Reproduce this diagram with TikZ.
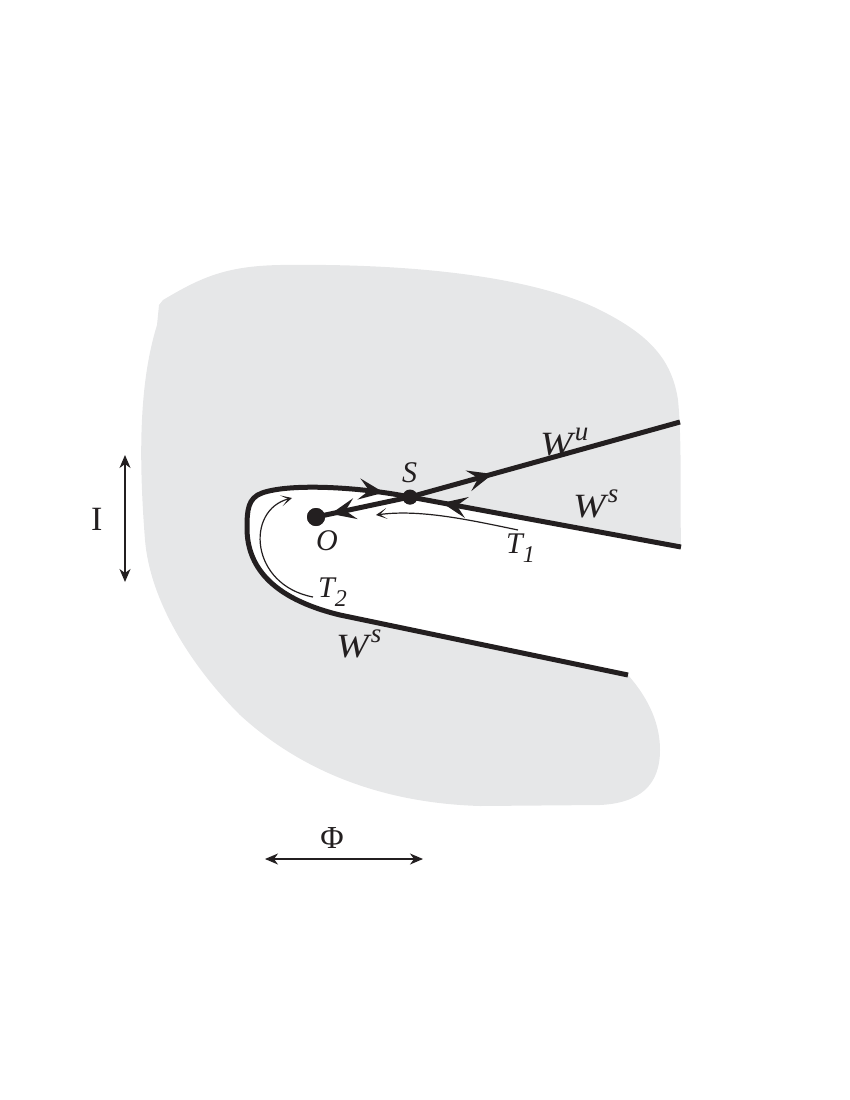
\documentclass[tikz,border=0pt]{standalone}
\usepackage{fontspec}
\setmainfont{Liberation Serif}
\usetikzlibrary{arrows.meta,decorations.markings}
\definecolor{blobgray}{HTML}{E6E7E8}
\definecolor{ink}{HTML}{231F20}
\newcommand\bigit{\fontsize{34}{38}\selectfont\itshape}
\newcommand\midit{\fontsize{30}{32}\selectfont\itshape}
\newcommand\wide[1]{\scalebox{1.15}[1]{#1}}
\newcommand\supr[1]{\kern2pt\raisebox{0.42em}{\fontsize{27}{28}\selectfont\itshape #1}}
\newcommand\subr[1]{\raisebox{-0.3em}{\fontsize{24}{26}\selectfont\itshape #1}}
\tikzset{
  wline/.style={draw=ink, line width=5pt},
  fwd/.style={postaction={decorate,decoration={markings,
      mark=at position #1 with {\arrow[ink]{Stealth[length=25pt,width=21pt,inset=10pt]}}}}},
  bwd/.style={postaction={decorate,decoration={markings,
      mark=at position #1 with {\arrowreversed[ink]{Stealth[length=25pt,width=21pt,inset=10pt]}}}}},
  thinarrow/.style={draw=ink, line width=1.2pt, -{Stealth[length=11pt,width=11pt,inset=7pt]}},
  axisarrow/.style={draw=ink, line width=1.2pt, {Stealth[length=13pt,width=11pt,inset=4pt]}-{Stealth[length=13pt,width=11pt,inset=4pt]}},
  dot/.style={circle, fill=ink, inner sep=0pt, minimum size=#1},
  lab/.style={inner sep=0pt, text=ink},
}
\begin{document}
\begin{tikzpicture}[x=1pt,y=-1pt]
\useasboundingbox (0,0) rectangle (850,1100);
% named points
\coordinate (A) at (681,547);
\coordinate (E) at (680,422);
\coordinate (L) at (628,675);
\node[dot=18pt] (O) at (316,517) {};
\node[dot=15pt] (S) at (410,497) {};
% gray region
\fill[blobgray] (163,300) .. controls (200,278) and (225,266) .. (280,265)
  .. controls (430,263) and (540,280) .. (600,310)
  .. controls (650,335) and (672,360) .. (678,400)
  .. controls (682,440) and (680,500) .. (A)
  -- (S.center) .. controls (360,487) and (290,483) .. (262,493)
  .. controls (248,498) and (247,510) .. (247,528)
  .. controls (247,565) and (270,598) .. (340,615) -- (L)
  .. controls (650,700) and (660,725) .. (660,750)
  .. controls (660,785) and (640,803) .. (600,805)
  -- (480,806) .. controls (380,803) and (300,770) .. (240,715)
  .. controls (190,665) and (150,600) .. (145,540)
  .. controls (138,450) and (140,380) .. (157,325)
  -- (159,305) -- cycle;
% stable manifold W^s
\path[wline, fwd=243pt, bwd=302pt] (A) -- (S.center)
  .. controls (360,487) and (290,483) .. (262,493)
  .. controls (248,498) and (247,510) .. (247,528)
  .. controls (247,565) and (270,598) .. (340,615) -- (L);
% unstable manifold W^u
\path[wline, bwd=15pt, fwd=182pt] (O.center) -- (S.center) -- (E);
\node[dot=18pt] at (O) {};
\node[dot=15pt] at (S) {};
% thin time arrows
\coordinate (t1s) at (518,530);
\coordinate (t1e) at (376,515);
\draw[thinarrow] (t1s) .. controls (470,520) and (420,509) .. (t1e);
\coordinate (t2s) at (313,597);
\coordinate (t2e) at (292,498);
\draw[thinarrow] (t2s) .. controls (250,585) and (245,510) .. (t2e);
% labels
\node[lab, anchor=base west] (lwu) at (540,455) {\bigit\wide{W}\supr{u}};
\node[lab, anchor=base west] (lws1) at (573,517) {\bigit\wide{W}\supr{s}};
\node[lab, anchor=base west] (lws2) at (336,657) {\bigit\wide{W}\supr{s}};
\node[lab, anchor=base west] (lS) at (402,482) {\midit S};
\node[lab, anchor=base west] (lO) at (316,550) {\midit O};
\node[lab, anchor=base west] (lT1) at (506,553) {\midit T\subr{1}};
\node[lab, anchor=base west] (lT2) at (318,597) {\midit T\subr{2}};
% I and Phi
\coordinate (i1) at (125,455);
\coordinate (i2) at (125,582);
\draw[axisarrow] (i1) -- (i2);
\node[lab, anchor=base west] (lI) at (91,530) {\fontsize{34}{38}\selectfont I};
\coordinate (p1) at (265,859);
\coordinate (p2) at (423,859);
\draw[axisarrow] (p1) -- (p2);
\node[lab] (lPhi) at (332,838) {\fontsize{32}{34}\selectfont Φ};
\end{tikzpicture}
\end{document}
